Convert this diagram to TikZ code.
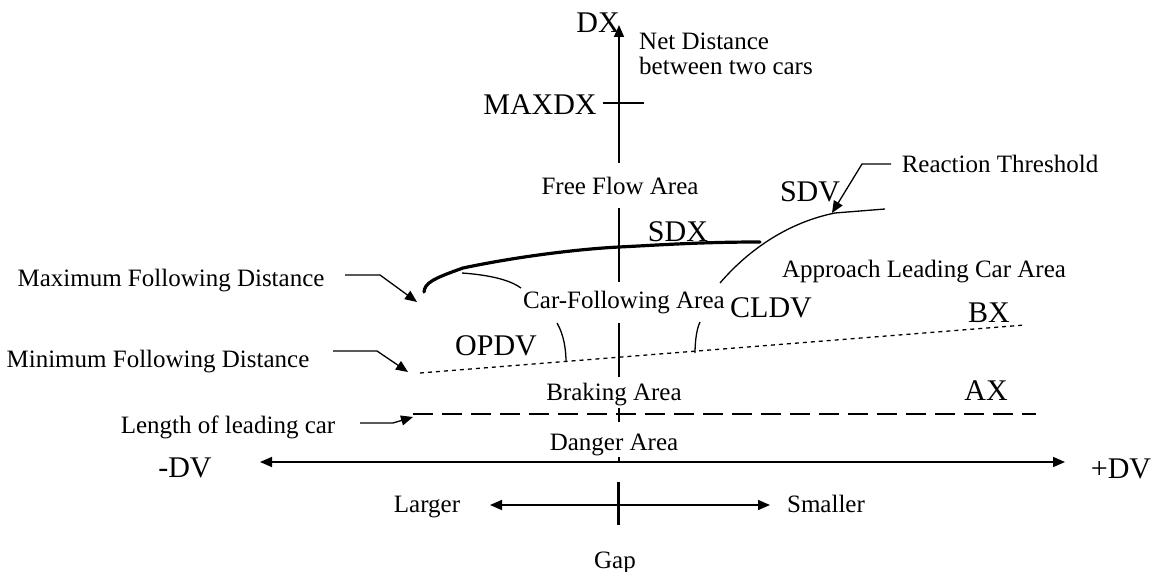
\documentclass[tikz,border=0pt]{standalone}
\usepackage{fontspec}
\setmainfont{Liberation Serif}
\usetikzlibrary{arrows.meta}
\begin{document}
\begin{tikzpicture}[x=1pt,y=-1pt,
  lbl/.style={font=\fontsize{25}{26}\selectfont, inner sep=0pt, anchor=base},
  sym/.style={font=\fontsize{30}{32}\selectfont, inner sep=0pt, anchor=base},
  axis/.style={line width=1.6pt},
  lead/.style={line width=1.3pt},
  tip/.style={-{Triangle[length=12pt,width=10pt]}},
  tips/.style={{Triangle[length=12pt,width=10pt]}-{Triangle[length=12pt,width=10pt]}},
]
\useasboundingbox (0,0) rectangle (1157,572);

% ---- labels ----
\node[sym] (dx) at (598,33) {DX};
\node[sym] (maxdx) at (540,115) {MAXDX};
\node[lbl, anchor=base west] (net1) at (639,50) {Net Distance};
\node[lbl, anchor=base west] (net2) at (639,75) {between two cars};
\node[lbl] (free) at (620,195) {Free Flow Area};
\node[lbl] (react) at (1000,173) {Reaction Threshold};
\node[sym] (sdv) at (810,202) {SDV};
\node[sym] (sdx) at (678,242) {SDX};
\node[lbl] (appr) at (924,278) {Approach Leading Car Area};
\node[lbl] (maxfd) at (171,287) {Maximum Following Distance};
\node[lbl] (cfa) at (624,308) {Car-Following Area};
\node[sym] (cldv) at (771,317) {CLDV};
\node[sym] (opdv) at (496,355) {OPDV};
\node[sym] (bx) at (989,322) {BX};
\node[lbl] (minfd) at (158,367) {Minimum Following Distance};
\node[lbl] (brk) at (614,400) {Braking Area};
\node[sym] (ax) at (986,400) {AX};
\node[lbl] (len) at (228,433) {Length of leading car};
\node[lbl] (dng) at (614,450) {Danger Area};
\node[sym] (mdv) at (185,477) {-DV};
\node[sym] (pdv) at (1121,478) {+DV};
\node[lbl] (lrg) at (427,512) {Larger};
\node[lbl] (sml) at (826,512) {Smaller};
\node[lbl] (gap) at (615,568) {Gap};

% ---- key points ----
\coordinate (dxtop) at (619,25);
\coordinate (hl) at (260,462);
\coordinate (hr) at (1065,462);
\coordinate (gl) at (490,505);
\coordinate (gr) at (770,505);
\coordinate (bx0) at (420,373);
\coordinate (bx1) at (1025,325);
\coordinate (ax0) at (413,414);
\coordinate (ax1) at (1036,414);

% ---- vertical DX axis, broken by the area labels ----
\draw[axis, tip] (619,163) -- (dxtop);
\draw[axis] (619,208) -- (619,282);
\draw[axis] (619,323) -- (619,377);
\draw[axis] (619,408) -- (619,422);
\draw[axis] (619,457) -- (619,462);

% MAXDX tick
\draw[line width=2.2pt] (603,103) -- (644,103);

% ---- horizontal DV axis ----
\draw[axis, tips] (hl) -- (hr);

% ---- gap axis ----
\draw[axis, tips] (gl) -- (gr);
\draw[line width=3pt] (618,482) -- (618,525);

% ---- BX and AX thresholds ----
\draw[line width=1.3pt, dash pattern=on 4pt off 4pt] (bx0) -- (bx1);
\draw[line width=1.5pt, dash pattern=on 20pt off 9pt] (ax0) -- (ax1);

% ---- SDX threshold (thick) ----
\draw[line width=3.2pt, line cap=round]
  (424,292) .. controls (425,283) and (432,279) .. (463,268)
  .. controls (520,256) and (580,249) .. (619,247)
  .. controls (660,245) and (700,242) .. (760,242);

% ---- SDV threshold ----
\draw[lead] (720,283) .. controls (750,248) and (790,222) .. (835,213) -- (885,209);

% ---- small boundary curves ----
\draw[lead] (462,273) .. controls (490,275) and (510,280) .. (521,288);
\draw[lead] (557,323) .. controls (564,335) and (566,350) .. (566,362);
\draw[lead] (700,322) .. controls (696,330) and (695,345) .. (695,353);

% ---- leaders ----
\coordinate (rt0) at (891,164);
\coordinate (rt1) at (862,164);
\coordinate (rt2) at (832,213);
\draw[lead, tip] (rt0) -- (rt1) -- (rt2);

\coordinate (mx0) at (345,275);
\coordinate (mx1) at (380,275);
\coordinate (mx2) at (417,302);
\draw[lead, tip] (mx0) -- (mx1) -- (mx2);

\coordinate (mn0) at (333,351);
\coordinate (mn1) at (377,351);
\coordinate (mn2) at (408,372);
\draw[lead, tip] (mn0) -- (mn1) -- (mn2);

\coordinate (ln0) at (360,423);
\coordinate (ln1) at (393,423);
\coordinate (ln2) at (413,417);
\draw[lead, tip] (ln0) -- (ln1) -- (ln2);
\end{tikzpicture}
\end{document}
